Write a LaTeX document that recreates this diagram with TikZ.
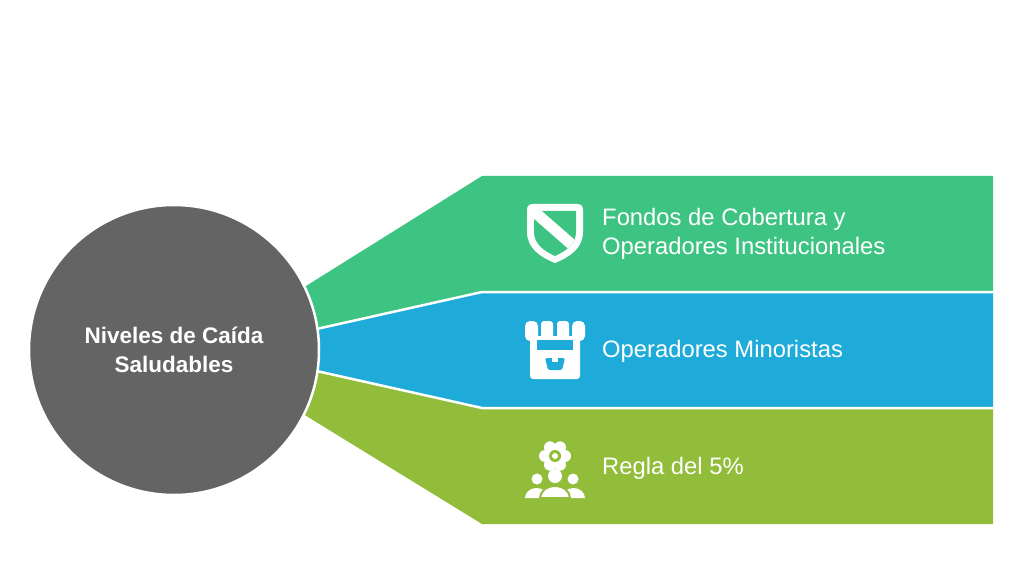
\documentclass[tikz,border=0pt]{standalone}
\usepackage{fontspec}
\setmainfont{Liberation Sans}
\definecolor{bandgreen}{HTML}{3EC482}
\definecolor{bandblue}{HTML}{1FABDA}
\definecolor{bandlime}{HTML}{92BD3A}
\definecolor{hubgray}{HTML}{646464}

\begin{document}
\begin{tikzpicture}[%
    x=1pt,y=-1pt,
    hub/.style={
      circle,
      draw=white,
      line width=2.5pt,
      fill=hubgray,
      text=white,
      align=center,
      minimum size=290pt,
      font=\bfseries\fontsize{22.5}{29}\selectfont
    },
    label/.style={
      anchor=west,
      text=white,
      align=left,
      inner sep=0pt,
      font=\fontsize{23.8}{29}\selectfont
    },
    sep/.style={
      draw=white,
      line width=2.5pt
    }
  ]
    \useasboundingbox[fill=white] (0,0) rectangle (1024,585);
    % bands
    \fill[bandgreen] (482,176) -- (993,176) -- (993,292) -- (482,292) -- (321,328) -- (250,344) -- (250,321) -- cycle;
    \fill[bandblue] (250,344) -- (321,328) -- (482,292) -- (993,292) -- (993,408) -- (482,408) -- (321,372) -- (250,356) -- cycle;
    \fill[bandlime] (250,356) -- (321,372) -- (482,408) -- (993,408) -- (993,524) -- (482,524) -- (308,417) -- (250,381) -- cycle;
    \draw[sep] (250,344) -- (321,328) -- (482,292) -- (993,292);
    \draw[sep] (250,356) -- (321,372) -- (482,408) -- (993,408);
    \node[hub] (hub) at (174,350) {Niveles de Caída\\Saludables};
    % labels
    \node[label] (fondos) at (602,233.5) {Fondos de Cobertura y\\Operadores Institucionales};
    \node[label] (minor) at (602,351) {Operadores Minoristas};
    \node[label] (regla) at (602,468) {Regla del 5\%};
    % shield icon
    \fill[white] (527,210) .. controls (527,206) and (529,204) .. (533,204) -- (577,204) .. controls (581,204) and (583,206) .. (583,210) -- (583,232) .. controls (583,248) and (570,257) .. (555,263) .. controls (540,257) and (527,248) .. (527,232) -- cycle;
    \begin{scope}
      \path[clip] (534,211) -- (576,211) -- (576,232) .. controls (576,244) and (566,251) .. (555,256) .. controls (544,251) and (534,244) .. (534,232) -- cycle;
      \fill[bandgreen] (520,200) rectangle (590,270);
      \draw[white,line width=11pt] (530,208) -- (578,250);
    \end{scope}
    % store icon
    \fill[white,rounded corners=5pt] (525,321) rectangle (538,341);
    \fill[white,rounded corners=3pt] (541,321) rectangle (553,341);
    \fill[white,rounded corners=3pt] (557,321) rectangle (569,341);
    \fill[white,rounded corners=5pt] (572,321) rectangle (585,341);
    \fill[white,rounded corners=3pt] (530,336) rectangle (580,379);
    \fill[bandblue] (537,340) rectangle (573,350);
    \fill[bandblue,rounded corners=1.5pt] (545,358) -- (565,358) -- (562,370) -- (548,370) -- cycle;
    \fill[white] (552,357) rectangle (558,362);
    % people icon
    \foreach \a in {0,60,...,300}
      \fill[white] (555,456) ++(\a:10) circle[radius=6];
    \fill[white] (555,456) circle[radius=11];
    \fill[bandlime] (555,456) circle[radius=6];
    \fill[white] (555,456) circle[radius=3];
    \fill[white] (537,479) circle[radius=5.5];
    \fill[white] (573,479) circle[radius=5.5];
    \fill[white] (555,476) circle[radius=7];
    \fill[white] (525,498) arc[start angle=180,end angle=360,x radius=11.5,y radius=10] -- cycle;
    \fill[white] (562,498) arc[start angle=180,end angle=360,x radius=11.5,y radius=10] -- cycle;
    \filldraw[white,draw=bandlime,line width=2pt] (540,498) arc[start angle=180,end angle=360,x radius=15,y radius=12] -- cycle;
  \end{tikzpicture}
\end{document}
